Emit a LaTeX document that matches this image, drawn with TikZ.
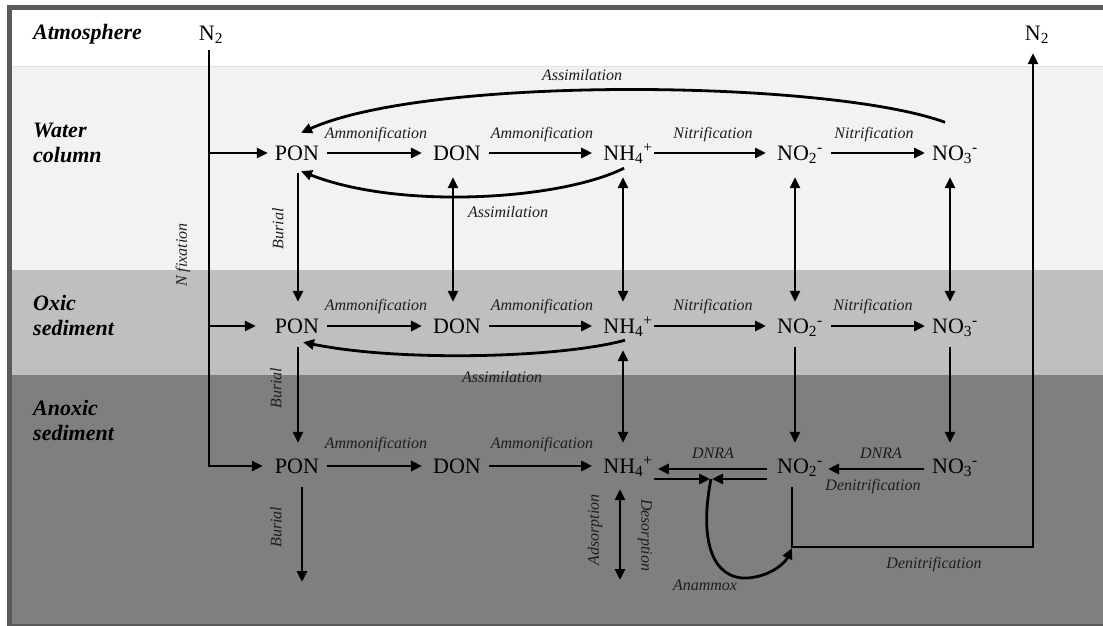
\documentclass[tikz,border=0pt]{standalone}
\usepackage{fontspec}
\setmainfont{Liberation Serif}
\usetikzlibrary{arrows.meta,calc}
\newcommand\spfont{\fontsize{22}{26}\selectfont}
\newcommand\lblfont{\fontsize{16}{19}\selectfont\itshape}
\newcommand\zonefont{\fontsize{22}{25}\selectfont\bfseries\itshape}
\definecolor{framegray}{HTML}{5A5A5A}
\definecolor{watercol}{HTML}{F2F2F2}
\definecolor{oxiccol}{HTML}{BFBFBF}
\definecolor{anoxiccol}{HTML}{7F7F7F}
\definecolor{bandline}{HTML}{DBE3EE}
\definecolor{labelcol}{HTML}{1E1E1E}
\begin{document}
\begin{tikzpicture}[x=1pt,y=1pt,
  sp/.style={font=\spfont, inner sep=0pt, text height=15pt, text depth=0pt, anchor=center},
  lbl/.style={font=\lblfont, text=labelcol, inner sep=0pt},
  zone/.style={font=\zonefont, inner sep=0pt, align=left, anchor=north west},
  ln/.style={line width=2.8pt, draw=black, line join=miter},
  arr/.style={ln, -{Triangle[length=11pt,width=10pt]}},
  darr/.style={ln, {Triangle[length=11pt,width=10pt]}-{Triangle[length=11pt,width=10pt]}},
  harr/.style={arr, shorten <=8pt, shorten >=11pt}
]
\useasboundingbox (0,0) rectangle (1103,-626);
% background bands
\fill[white] (0,0) rectangle (1103,-626);
\fill[framegray] (7,-5) rectangle (1103,-626);
\fill[white] (12,-10) rectangle (1103,-67);
\fill[watercol] (12,-67) rectangle (1103,-270);
\fill[oxiccol] (12,-270) rectangle (1103,-375);
\fill[anoxiccol] (12,-375) rectangle (1103,-624);
\draw[line width=1pt, bandline] (12,-67) -- (1103,-67);

% zone labels
\node[zone] (zatm) at (33,-24.5) {Atmosphere};
\node[zone] (zwat) at (33,-123) {Water\\column};
\node[zone] (zoxi) at (33,-295) {Oxic\\sediment};
\node[zone] (zano) at (33,-400) {Anoxic\\sediment};

% species
\node[sp] (n2a) at (211,-33) {N\textsubscript{2}};
\node[sp] (n2b) at (1037,-33) {N\textsubscript{2}};

\node[sp] (pon1) at (297,-153) {PON};
\node[sp] (don1) at (457,-153) {DON};
\node[sp] (nh1)  at (628,-153) {NH\textsubscript{4}\textsuperscript{+}};
\node[sp] (noa1) at (800,-153) {NO\textsubscript{2}\textsuperscript{-}};
\node[sp] (nob1) at (955,-153) {NO\textsubscript{3}\textsuperscript{-}};

\node[sp] (pon2) at (297,-326) {PON};
\node[sp] (don2) at (457,-326) {DON};
\node[sp] (nh2)  at (628,-326) {NH\textsubscript{4}\textsuperscript{+}};
\node[sp] (noa2) at (800,-326) {NO\textsubscript{2}\textsuperscript{-}};
\node[sp] (nob2) at (955,-326) {NO\textsubscript{3}\textsuperscript{-}};

\node[sp] (pon3) at (297,-466) {PON};
\node[sp] (don3) at (457,-466) {DON};
\node[sp] (nh3)  at (628,-466) {NH\textsubscript{4}\textsuperscript{+}};
\node[sp] (noa3) at (800,-466) {NO\textsubscript{2}\textsuperscript{-}};
\node[sp] (nob3) at (955,-466) {NO\textsubscript{3}\textsuperscript{-}};

% N fixation
\coordinate (fixtop) at (209,-50);
\coordinate (fix1) at (209,-153);
\coordinate (fix2) at (209,-326);
\draw[arr] (fixtop) |- ([xshift=-12pt]pon3.west);
\draw[arr] (fix1) -- ([xshift=-7pt]pon1.west);
\draw[arr] (fix2) -- ([xshift=-19pt]pon2.west);
\node[lbl, rotate=90] (lfix) at (183,-255) {N fixation};

% row 1 horizontal
\draw[harr] (pon1.east) -- (don1.west);
\draw[harr] (don1.east) -- (nh1.west);
\draw[harr, shorten <=1pt] (nh1.east) -- (noa1.west);
\draw[harr, shorten >=7pt] (noa1.east) -- (nob1.west);
\node[lbl] (l11) at (376,-135) {Ammonification};
\node[lbl] (l12) at (542,-135) {Ammonification};
\node[lbl] (l13) at (713,-135) {Nitrification};
\node[lbl] (l14) at (874,-135) {Nitrification};

% row 2 horizontal
\draw[harr] (pon2.east) -- (don2.west);
\draw[harr] (don2.east) -- (nh2.west);
\draw[harr, shorten <=1pt] (nh2.east) -- (noa2.west);
\draw[harr, shorten >=7pt] (noa2.east) -- (nob2.west);
\node[lbl] (l21) at (376,-307) {Ammonification};
\node[lbl] (l22) at (542,-307) {Ammonification};
\node[lbl] (l23) at (713,-307) {Nitrification};
\node[lbl] (l24) at (873,-307) {Nitrification};

% row 3 horizontal
\draw[harr] (pon3.east) -- (don3.west);
\draw[harr] (don3.east) -- (nh3.west);
\node[lbl] (l31) at (376,-445) {Ammonification};
\node[lbl] (l32) at (542,-445) {Ammonification};
\draw[arr] ([xshift=-10pt,yshift=-3pt]noa3.west) -- ([xshift=5pt,yshift=-3pt]nh3.east);
\draw[arr] ([xshift=-8pt,yshift=-3pt]nob3.west) -- ([xshift=5pt,yshift=-3pt]noa3.east);
\node[lbl] (ldnra1) at (713,-453) {DNRA};
\node[lbl] (ldnra2) at (881,-453) {DNRA};
\node[lbl] (ldenit1) at (873,-487) {Denitrification};

% anammox
\coordinate (amx) at (711,-479);
\draw[arr] ([xshift=1pt,yshift=-13pt]nh3.east) -- ([xshift=-1pt]amx);
\draw[arr] ([xshift=-10pt,yshift=-13pt]noa3.west) -- ([xshift=1pt]amx);
\coordinate (dncorner) at (792,-547);
\coordinate (dnright) at (1033,-547);
\draw[arr] (amx) .. controls (699,-540) and (712,-580) .. (748,-578)
  .. controls (771,-576) and (785,-563) .. ([yshift=-1pt]dncorner);
\node[lbl] (lanam) at (705,-585) {Anammox};

% denitrification to N2
\draw[arr] ([xshift=-8pt,yshift=-13.5pt]noa3.south) -- (dncorner) -- (dnright) -- ([xshift=-4pt,yshift=-12.5pt]n2b.south);
\node[lbl] (ldenit2) at (934,-565) {Denitrification};

% assimilation arcs
\draw[arr] ([xshift=-10pt,yshift=23pt]nob1.north) .. controls (830,-80) and (430,-75) .. ([xshift=4pt,yshift=12.5pt]pon1.north);
\node[lbl] (lass1) at (582,-75) {Assimilation};
\draw[arr] ([xshift=-4pt,yshift=-7.5pt]nh1.south) .. controls (560,-200) and (400,-210) .. ([xshift=4pt,yshift=-10.5pt]pon1.south);
\node[lbl] (lass2) at (508,-212) {Assimilation};
\draw[arr] ([xshift=-3pt,yshift=-6.5pt]nh2.south) .. controls (560,-358) and (400,-362) .. ([xshift=6pt,yshift=-8.5pt]pon2.south);
\node[lbl] (lass3) at (502,-377) {Assimilation};

% vertical, row 1 -> row 2
\draw[arr]  ([xshift=1pt,yshift=-12.5pt]pon1.south) -- ([xshift=1pt,yshift=16.5pt]pon2.north);
\node[lbl, rotate=90] (lbur1) at (278,-229) {Burial};
\draw[darr] ([xshift=-4pt,yshift=-16.5pt]don1.south) -- ([xshift=-4pt,yshift=16.5pt]don2.north);
\draw[darr] ([xshift=-5pt,yshift=-16.5pt]nh1.south) -- ([xshift=-5pt,yshift=16.5pt]nh2.north);
\draw[darr] ([xshift=-5pt,yshift=-16.5pt]noa1.south) -- ([xshift=-5pt,yshift=16.5pt]noa2.north);
\draw[darr] ([xshift=-5pt,yshift=-16.5pt]nob1.south) -- ([xshift=-5pt,yshift=16.5pt]nob2.north);

% vertical, row 2 -> row 3
\draw[arr]  ([xshift=1pt,yshift=-13.5pt]pon2.south) -- ([xshift=1pt,yshift=15.5pt]pon3.north);
\node[lbl, rotate=90] (lbur2) at (276,-388) {Burial};
\draw[darr] ([xshift=-5pt,yshift=-16.5pt]nh2.south) -- ([xshift=-5pt,yshift=15.5pt]nh3.north);
\draw[arr]  ([xshift=-5pt,yshift=-13.5pt]noa2.south) -- ([xshift=-5pt,yshift=15.5pt]noa3.north);
\draw[arr]  ([xshift=-5pt,yshift=-13.5pt]nob2.south) -- ([xshift=-5pt,yshift=15.5pt]nob3.north);

% row 3 downward
\coordinate (burend) at (302,-582);
\draw[arr] ([xshift=5pt,yshift=-13.5pt]pon3.south) -- (burend);
\node[lbl, rotate=90] (lbur3) at (276,-527) {Burial};
\coordinate (adsend) at (620,-580);
\draw[darr] ([xshift=-8pt,yshift=-15.5pt]nh3.south) -- (adsend);
\node[lbl, rotate=90] (lads) at (595,-530) {Adsorption};
\node[lbl, rotate=-90] (ldes) at (645,-535) {Desorption};
\end{tikzpicture}
\end{document}
